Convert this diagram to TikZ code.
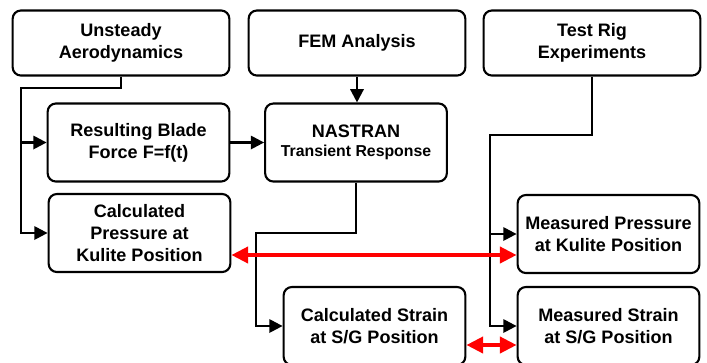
\documentclass[tikz,border=0pt]{standalone}
\usepackage{fontspec}
\setmainfont{Liberation Sans}
\usetikzlibrary{arrows.meta}

\begin{document}
\begin{tikzpicture}[x=0.03cm, y=-0.03cm,
    box/.style={draw, line width=1.8pt, rounded corners=7pt, align=center, inner sep=2pt, font=\bfseries\fontsize{15.4}{18.5}\selectfont},
    topbox/.style={box, minimum width=6.5cm, minimum height=1.95cm},
    midbox/.style={box, minimum width=5.45cm, minimum height=2.34cm},
    link/.style={line width=2pt, -{Triangle[length=0.4cm, width=0.4cm]}},
    compare/.style={red, line width=3.2pt, {Triangle[length=0.5cm, width=0.48cm]}-{Triangle[length=0.5cm, width=0.48cm]}}]
    \useasboundingbox (0,0) rectangle (707,362);
    \clip (0,0) rectangle (707,362);
    \node[topbox] (aero) at (121,43) {Unsteady\\Aerodynamics};
    \node[topbox] (fem) at (357,43) {FEM Analysis};
    \node[topbox] (rig) at (592,43) {Test Rig\\Experiments};
    \node[midbox] (force) at (138.5,142.5) {Resulting Blade\\Force F=f(t)};
    \node[midbox] (nastran) at (356,142.5) {NASTRAN\\[-2.5pt]{\fontsize{13.5}{16}\selectfont Transient Response}};
    \node[midbox] (calcp) at (139.5,233) {Calculated\\Pressure at\\Kulite Position};
    \node[midbox] (calcs) at (374.5,326) {Calculated Strain\\at S/G Position};
    \node[midbox] (measp) at (608.5,234) {Measured Pressure\\at Kulite Position};
    \node[midbox] (meass) at (608.5,326) {Measured Strain\\at S/G Position};
    \coordinate (aerobend) at (21,88);
    \coordinate (nasbend) at (256,233);
    \coordinate (rigbend) at (490,135);
    \draw[link] (aero.south) |- (aerobend) |- (calcp.west);
    \draw[link] (aerobend |- force.west) -- (force.west);
    \draw[link] (force.east) -- (nastran.west);
    \draw[link] (fem.south) -- (fem.south |- nastran.north);
    \draw[link] (nastran.south) |- (nasbend) |- (calcs.west);
    \draw[link] (rig.south) |- (rigbend) |- (meass.west);
    \draw[link] (rigbend |- measp.west) -- (measp.west);
    \draw[compare] ([yshift=-0.66cm]calcp.east) -- ([yshift=-0.66cm]calcp.east -| measp.west);
    \draw[compare] ([yshift=-0.57cm]calcs.east) -- ([yshift=-0.57cm]calcs.east -| meass.west);
\end{tikzpicture}
\end{document}
